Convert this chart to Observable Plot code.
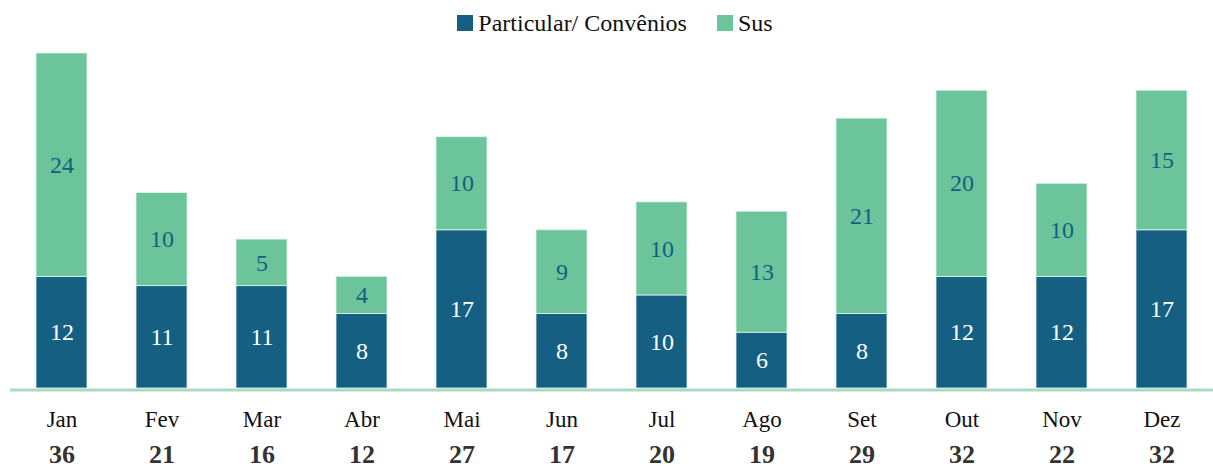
<!DOCTYPE html>
<html>
<head>
<meta charset="utf-8">
<script src="https://cdn.jsdelivr.net/npm/d3@7"></script>
<script src="https://cdn.jsdelivr.net/npm/@observablehq/plot@0.6"></script>
<style>
  html, body { margin: 0; padding: 0; background: #fff; }
  body { width: 1213px; height: 468px; overflow: hidden; font-family: 'Liberation Serif', serif; }
  #legend { height: 40px; padding-top: 6px; padding-left: 17px; box-sizing: border-box; display: flex; justify-content: center; align-items: center; font-family: 'Liberation Serif', serif; font-size: 24px; color: #111; }
  .item { display: flex; align-items: center; margin: 0 15px; }
  .sw { width: 16px; height: 16px; margin-right: 5px; display: inline-block; }
  svg { display: block; }
</style>
</head>
<body>
<div id="legend"></div>
<div id="chart"></div>
<script>
const months = ["Jan","Fev","Mar","Abr","Mai","Jun","Jul","Ago","Set","Out","Nov","Dez"];
const particular = [12, 11, 11, 8, 17, 8, 10, 6, 8, 12, 12, 17];
const sus = [24, 10, 5, 4, 10, 9, 10, 13, 21, 20, 10, 15];
const seriesNames = ["Particular/ Convênios", "Sus"];
const seriesColors = ["#156082", "#6cc49a"];
const labelColors = ["#ffffff", "#156082"];
const FONT = "'Liberation Serif', serif";

const data = [];
months.forEach((m, i) => {
  data.push({month: m, serie: seriesNames[0], value: particular[i]});
  data.push({month: m, serie: seriesNames[1], value: sus[i]});
});
const totals = months.map((m, i) => ({month: m, total: particular[i] + sus[i]}));

const legend = document.getElementById("legend");
seriesNames.forEach((s, i) => {
  const it = document.createElement("div");
  it.className = "item";
  it.innerHTML = `<span class="sw" style="background:${seriesColors[i]}"></span><span>${s}</span>`;
  legend.appendChild(it);
});

const chart = Plot.plot({
  width: 1213,
  height: 428,
  marginTop: 13,
  marginBottom: 80,
  marginLeft: 10,
  marginRight: 0,
  style: {fontFamily: FONT, background: "#fff"},
  x: {domain: months, paddingInner: 0.49, paddingOuter: 0.245, axis: null},
  y: {domain: [0, 36], axis: null},
  color: {domain: seriesNames, range: seriesColors},
  marks: [
    Plot.barY(data, Plot.stackY({x: "month", y: "value", fill: "serie", order: seriesNames, stroke: "#dff3ea", strokeWidth: 0.8})),
    Plot.text(data, Plot.stackY({
      x: "month", y: "value", order: seriesNames,
      text: d => String(d.value),
      fill: d => labelColors[seriesNames.indexOf(d.serie)],
      fontSize: 24, fontFamily: FONT
    })),
    Plot.ruleY([0], {stroke: "#a9dcc3", strokeWidth: 3, dy: 1.5}),
    Plot.text(totals, {x: "month", y: 0, text: "month", dy: 31, fontSize: 23, fontFamily: FONT, fill: "#111"}),
    Plot.text(totals, {x: "month", y: 0, text: d => String(d.total), dy: 66, fontSize: 26, fontWeight: "bold", fontFamily: FONT, fill: "#333"})
  ]
});
document.getElementById("chart").appendChild(chart);
</script>
</body>
</html>
